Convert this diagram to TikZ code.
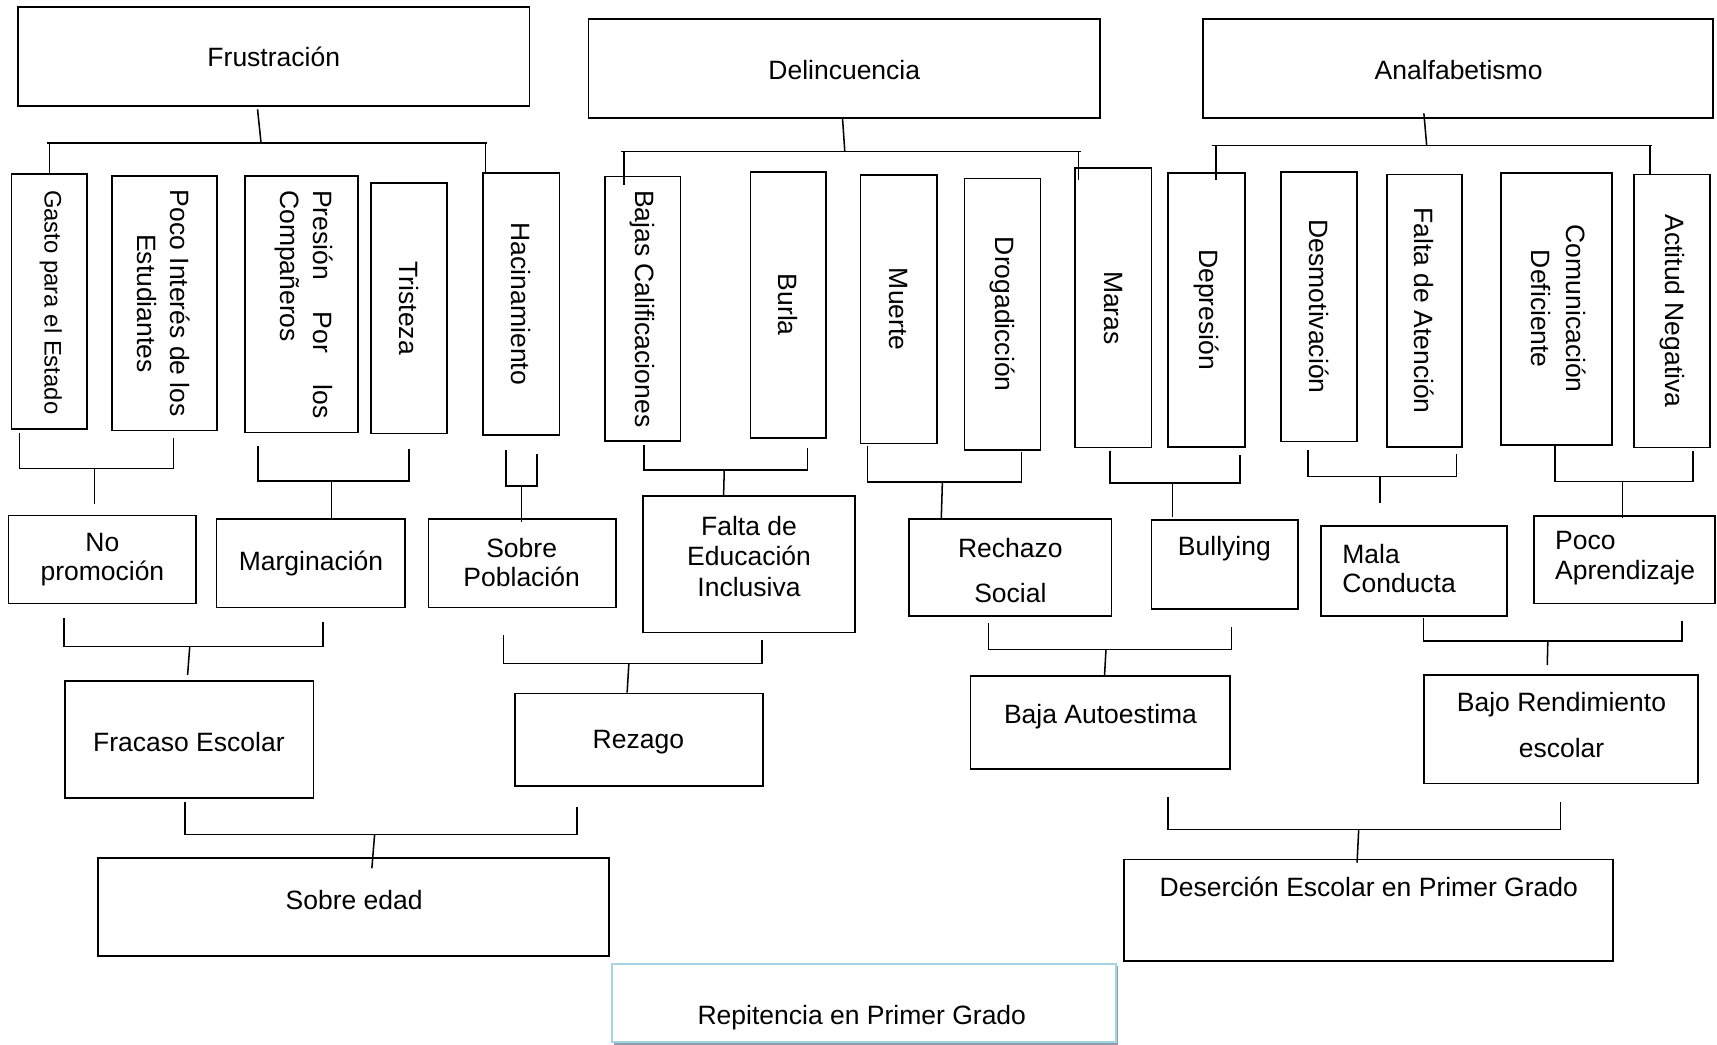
\documentclass[tikz,border=0pt]{standalone}
\usepackage{fontspec}
\setmainfont{Liberation Sans}
\usetikzlibrary{shadows}
\definecolor{repbd}{RGB}{165,212,226}
\definecolor{repsh}{RGB}{140,160,172}
\tikzset{
  bx/.style={draw=black, line width=1.5pt, rectangle, inner sep=0pt, outer sep=0pt},
  lbl/.style={inner sep=0pt, align=center, font=\fontsize{24.2}{#1}\selectfont},
  lbl/.default=27,
  vlbl/.style={lbl=#1, rotate=-90},
  vlbl/.default=30,
  ln/.style={line width=1.4pt},
}
\newcommand\mkbox[6][]{%
  \node[bx,#1,minimum width={#5-#3},minimum height={#6-#4}] (#2) at ({(#3+#5)/2},{(#4+#6)/2}) {};}
\newcommand\brk[9]{%
  \coordinate (#1a) at (#2,#3);
  \coordinate (#1b) at (#2,#6);
  \coordinate (#1c) at (#4,#6);
  \coordinate (#1d) at (#4,#5);
  \coordinate (#1e) at (#7,#6);
  \coordinate (#1f) at (#8,#9);
  \draw[ln] (#1a) -- (#1b) -- (#1c) -- (#1d);
  \draw[ln] (#1e) -- (#1f);}
\begin{document}
\begin{tikzpicture}[x=1pt,y=-1pt]
\useasboundingbox (0,0) rectangle (1568,954);
% ---------- top level ----------
\mkbox{frus}{16.4}{6.1}{483.4}{96.8}
\mkbox{delin}{537.4}{17.4}{1004.3}{108}
\mkbox{analf}{1098.8}{17.4}{1564.5}{107.5}
\node[lbl] (frust) at (250,52) {Frustración};
\node[lbl] (delint) at (771,64) {Delincuencia};
\node[lbl] (analft) at (1332,64) {Analfabetismo};
% ---------- vertical boxes ----------
\mkbox{gasto}{10.5}{159}{79.7}{392}
\mkbox{poco}{102}{161}{198}{393}
\mkbox{presion}{224}{161}{327}{395}
\mkbox{tristeza}{339}{167}{408}{396}
\mkbox{hacin}{441}{158}{511}{397}
\mkbox{bajas}{552.4}{161.3}{621.6}{402.7}
\mkbox{burla}{685.2}{156.8}{754.4}{399.7}
\mkbox{muerte}{785.8}{159.8}{855.4}{404.9}
\mkbox{droga}{880.9}{162.9}{950.1}{411}
\mkbox{maras}{981.6}{153.7}{1051.5}{408.8}
\mkbox{depre}{1066.8}{157.7}{1136.8}{408}
\mkbox{desmo}{1170.1}{156.8}{1239.2}{403.3}
\mkbox{faltaat}{1266.6}{159.2}{1335.3}{408}
\mkbox{comun}{1370.6}{157.7}{1472.3}{406.4}
\mkbox{actitud}{1492.1}{159.2}{1561.5}{408.8}
\node[inner sep=0pt, rotate=-90, font=\fontsize{21.8}{26}\selectfont] (gastot) at (46.5,276) {Gasto para el Estado};
\node[vlbl] (pocot) at (149.5,277) {Poco Interés de los\\Estudiantes};
\node[vlbl, text width=208.5pt, align=left] (presiont) at (277.9,277.9) {\hbox to 208.5pt{Presión\hfill Por\hfill los}\\Compañeros};
\node[vlbl] (tristezat) at (tristeza.center) {Tristeza};
\node[vlbl] (hacint) at (hacin.center) {Hacinamiento};
\node[vlbl] (bajast) at (bajas.center) {Bajas Calificaciones};
\node[vlbl] (burlat) at (burla.center) {Burla};
\node[vlbl] (muertet) at (muerte.center) {Muerte};
\node[vlbl] (drogat) at (droga.center) {Drogadicción};
\node[vlbl] (marast) at (maras.center) {Maras};
\node[vlbl] (depret) at (depre.center) {Depresión};
\node[vlbl] (desmot) at (desmo.center) {Desmotivación};
\node[vlbl] (faltaatt) at (faltaat.center) {Falta de Atención};
\node[vlbl=32] (comunt) at (1423.5,282) {Comunicación\\Deficiente};
\node[vlbl] (actitudt) at (actitud.center) {Actitud Negativa};
% ---------- top trees ----------
\coordinate (fs1) at (235.2,99.8); \coordinate (fs2) at (238.4,130.6);
\coordinate (fbl) at (42.6,130.6); \coordinate (fbr) at (444.6,130.6);
\coordinate (fdl) at (45.4,130.6); \coordinate (fdr) at (443.2,130.6);
\draw[ln] (fs1) -- (fs2);
\draw[ln] (fbl) -- (fbr);
\draw[ln] (fdl) -- (fdl |- gasto.north);
\draw[ln] (fdr) -- (fdr |- hacin.north);
\coordinate (ds1) at (769.4,108); \coordinate (ds2) at (771.5,138.5);
\coordinate (dbl) at (567,138.5); \coordinate (dbr) at (986.8,138.5);
\coordinate (ddl) at (569.9,138.5); \coordinate (ddl2) at (569.9,169);
\coordinate (ddr) at (985,138.5); \coordinate (ddr2) at (985,164.4);
\draw[ln] (ds1) -- (ds2);
\draw[ln] (dbl) -- (dbr);
\draw[ln] (ddl) -- (ddl2);
\draw[ln] (ddr) -- (ddr2);
\coordinate (as1) at (1300.3,103.5); \coordinate (as2) at (1302.9,133);
\coordinate (abl) at (1107,133); \coordinate (abr) at (1508.3,133);
\coordinate (adl) at (1110.4,133); \coordinate (adl2) at (1110.4,164.4);
\coordinate (adr) at (1507,133);
\draw[ln] (as1) -- (as2);
\draw[ln] (abl) -- (abr);
\draw[ln] (adl) -- (adl2);
\draw[ln] (adr) -- (adr |- actitud.north);
% ---------- middle boxes ----------
\mkbox{nopromo}{7.6}{470.9}{178.9}{551}
\mkbox{margin}{197.7}{474}{370}{554.9}
\mkbox{sobrepob}{391.3}{474}{562.6}{554.9}
\mkbox{faltaed}{587}{453}{780.5}{577.5}
\mkbox{rechazo}{830.3}{474}{1015.1}{562.6}
\mkbox{bully}{1051.5}{474.9}{1185.3}{556}
\mkbox{mala}{1206.5}{480.4}{1376.1}{562.6}
\mkbox{pocoap}{1400.9}{471}{1566}{551}
\node[lbl=26.5] (nopromot) at (93.5,511) {No\\promoción};
\node[lbl] (margint) at (284,515) {Marginación};
\node[lbl=26] (sobrepobt) at (476.4,513.6) {Sobre\\Población};
\node[lbl=27.7] (faltaedt) at (684,508) {Falta de\\Educación\\Inclusiva};
\node[lbl=41.7] (rechazot) at (922.7,521) {Rechazo\\Social};
\node[lbl] (bullyt) at (1118.1,500.7) {Bullying};
\node[lbl=26.5, align=left, anchor=west] (malat) at (1225.7,519.5) {Mala\\Conducta};
\node[lbl=27.4, align=left, anchor=west] (pocoapt) at (1420,510) {Poco\\Aprendizaje};
% ---------- lower boxes ----------
\mkbox{fracaso}{59.3}{622}{286.4}{729}
\mkbox{rezago}{470.3}{633.2}{696.9}{717.5}
\mkbox{baja}{886.3}{617.3}{1123.2}{702.2}
\mkbox{bajo}{1300.5}{616.4}{1550.4}{715.4}
\node[lbl] (fracasot) at (172.5,677.3) {Fracaso Escolar};
\node[lbl] (rezagot) at (583,677.8) {Rezago};
\node[lbl] (bajat) at (1005,654.5) {Baja Autoestima};
\node[lbl=42.6] (bajot) at (1426,662) {Bajo Rendimiento\\escolar};
% ---------- bottom boxes ----------
\mkbox{sobreedad}{89.7}{783.4}{556}{873.2}
\mkbox{desercion}{1026.2}{784.8}{1473.2}{877.3}
\mkbox[draw=repbd, fill=white, line width=1.8pt, drop shadow={shadow xshift=2.2pt, shadow yshift=-2.2pt, fill=repsh, opacity=1}]{repit}{558.7}{880.4}{1018.9}{951.9}
\node[lbl] (sobreedadt) at (323.4,821.9) {Sobre edad};
\node[lbl] (deserciont) at (1250,809.8) {Deserción Escolar en Primer Grado};
\node[lbl] (repitt) at (787,929) {Repitencia en Primer Grado};
% ---------- brackets ----------
\brk{bnp}{17.7}{395.1}{158.6}{400.3}{427.7}{86.2}{86.2}{460.3}
\brk{bmg}{235.7}{407.3}{373.5}{410.4}{439.3}{302.6}{302.6}{472.6}
\brk{bsp}{462.2}{411}{490.6}{414.8}{444}{476.4}{476.4}{476.4}
\brk{bfe}{588}{406.4}{737.5}{409.4}{429.4}{661.4}{660.8}{452.2}
\brk{brs}{792.4}{407}{932.8}{413}{440}{860.6}{859.6}{473.4}
\brk{bbu}{1013.6}{411.5}{1132.3}{415.5}{441}{1070.7}{1070.7}{471.8}
\brk{bmc}{1194.4}{411}{1330.2}{415}{435}{1260}{1260}{459.7}
\brk{bpa}{1420.1}{407.3}{1546.3}{411.5}{439.5}{1481.7}{1481.7}{472.6}
\brk{bfr}{58.3}{564.7}{295}{568.4}{590.3}{173.3}{171.3}{616.4}
\brk{brz}{459.7}{579.9}{695.9}{584}{605.8}{574.3}{572.7}{632.5}
\brk{bba}{902.5}{569.2}{1124.7}{572.9}{593}{1010}{1008.7}{616.4}
\brk{bbr}{1299.9}{564.7}{1536.2}{567.1}{585.6}{1413.5}{1413}{607.3}
\brk{bse}{168.8}{732.1}{527.1}{736.6}{762}{342.1}{339.6}{792.9}
\brk{bde}{1066.6}{727.5}{1425.1}{732.1}{757.5}{1240.8}{1239.3}{787.8}
\end{tikzpicture}
\end{document}
